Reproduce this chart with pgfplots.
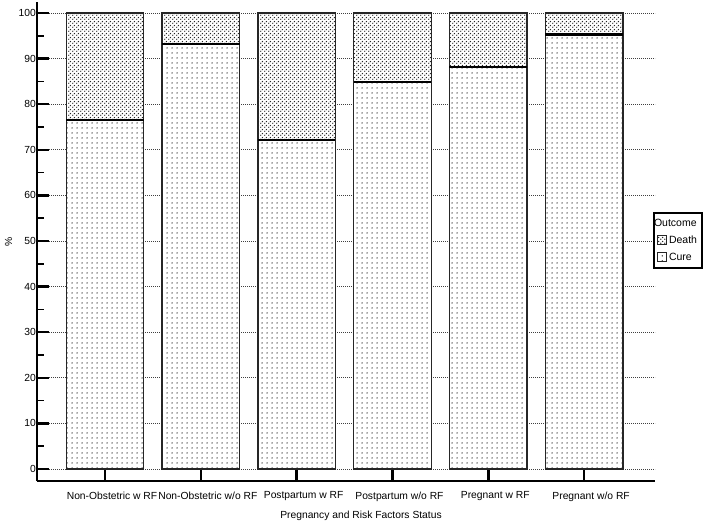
\documentclass[border=0pt]{standalone}
\usepackage{pgfplots}
\pgfplotsset{compat=1.18}
\usepackage{pgfplotstable}
\usetikzlibrary{patterns}
\usepackage{fontspec}
\setmainfont{Liberation Sans}

% sparse dots for Cure, dense offset dots for Death
\pgfdeclarepatternformonly{curedots}{\pgfqpoint{0pt}{0pt}}{\pgfqpoint{5pt}{4.5pt}}{\pgfqpoint{5pt}{4.5pt}}{%
  \pgfpathcircle{\pgfqpoint{2.5pt}{2.25pt}}{0.8pt}\pgfusepath{fill}}
\pgfdeclarepatternformonly{deathdots}{\pgfqpoint{0pt}{0pt}}{\pgfqpoint{4pt}{4pt}}{\pgfqpoint{4pt}{4pt}}{%
  \pgfpathcircle{\pgfqpoint{1pt}{1pt}}{0.85pt}%
  \pgfpathcircle{\pgfqpoint{3pt}{3pt}}{0.85pt}\pgfusepath{fill}}

\pgfplotstableread{
x cure death
0 76.5 23.5
1 93.2 6.8
2 72.2 27.8
3 84.9 15.1
4 88.1 11.9
5 95.3 4.7
}\outcome

\begin{document}
\begin{tikzpicture}
\begin{axis}[
    scale only axis,
    width=618pt, height=479pt,
    xmin=-0.71, xmax=5.74,
    ymin=-2.63, ymax=102.4,
    ybar stacked,
    bar width=0.81,
    axis lines*=left,
    axis line style={line width=2.5pt, black},
    xtick={0,...,5},
    xticklabels={Non-Obstetric w RF, Non-Obstetric w/o RF, Postpartum w RF,
                 Postpartum w/o RF, Pregnant w RF, Pregnant w/o RF},
    xticklabel style={xshift=7pt, yshift=-7pt},
    ytick={0,10,...,100},
    minor y tick num=1,
    yticklabel style={inner sep=1pt},
    major tick length=12pt,
    minor tick length=7pt,
    every tick/.style={black, line width=2.5pt},
    every minor tick/.style={black, line width=1.6pt},
    ymajorgrids,
    grid style={black!75, line width=0.6pt, dash pattern=on 1pt off 1pt},
    tick label style={font=\fontsize{10.3}{12}\selectfont},
    label style={font=\fontsize{10.3}{12}\selectfont},
    /pgf/number format/assume math mode=true,
    xlabel={Pregnancy and Risk Factors Status},
    xlabel style={xshift=15pt, yshift=-3pt},
    ylabel={\%},
    ylabel style={yshift=2pt},
    legend image code/.code={\draw[#1, line width=0.9pt] (0pt,-4.5pt) rectangle (9pt,4.5pt);},
    reverse legend,
    legend style={at={(0.997,0.562)}, anchor=north west, draw=black,
        line width=2pt, inner xsep=3pt, inner ysep=4pt, row sep=4pt,
        font=\fontsize{10.5}{12}\selectfont, cells={anchor=west}},
]
\addplot[draw=black!85, line width=1.3pt, fill=white,
    postaction={pattern=curedots, pattern color=black!85},
    error bars/.cd, y dir=plus, y fixed=0,
    error mark options={black, line width=2.4pt, mark size=38.8pt, rotate=90}]
    table[x=x, y=cure] {\outcome};
\addlegendentry{Cure}
\addplot[draw=black!85, line width=1.3pt, fill=white,
    postaction={pattern=deathdots, pattern color=black!85}]
    table[x=x, y=death] {\outcome};
\addlegendentry{Death}
\addlegendimage{empty legend}
\addlegendentry{\hspace*{-15pt}Outcome}
\end{axis}
\path (-37pt,-41pt) rectangle (672pt,481pt);
\end{tikzpicture}
\end{document}
